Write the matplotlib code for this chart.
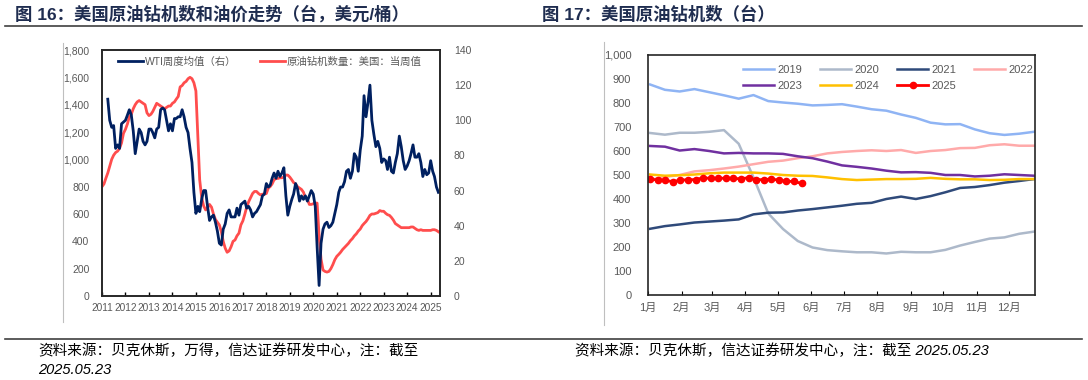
import matplotlib
matplotlib.use("Agg")
import matplotlib.pyplot as plt
import matplotlib.dates as mdates
from matplotlib.lines import Line2D
from matplotlib.ticker import MultipleLocator, FuncFormatter
import numpy as np
import pandas as pd

plt.rcParams['font.family'] = ['Liberation Sans', 'Noto Sans CJK SC', 'DejaVu Sans']

# ---------------- 图16 数据（月度，读图估计） ----------------
rig_start = '2011-01-01'
rig_count = [
    800, 820, 860, 900, 950, 1000, 1030, 1050, 1060, 1080, 1120, 1190,   # 2011
    1220, 1260, 1310, 1330, 1370, 1400, 1420, 1430, 1420, 1410, 1400, 1340,  # 2012
    1320, 1330, 1350, 1380, 1410, 1400, 1390, 1380, 1370, 1380, 1390, 1390,  # 2013
    1410, 1420, 1440, 1460, 1530, 1540, 1560, 1570, 1590, 1600, 1590, 1560,  # 2014
    1500, 1150, 850, 720, 660, 630, 645, 670, 650, 600, 560, 540,         # 2015
    520, 470, 400, 350, 320, 330, 360, 400, 410, 440, 460, 520,           # 2016
    550, 600, 650, 690, 720, 750, 765, 765, 750, 740, 745, 745,           # 2017
    750, 790, 800, 820, 850, 860, 860, 865, 865, 870, 885, 885,           # 2018
    870, 850, 830, 820, 800, 790, 780, 760, 720, 710, 670, 670,           # 2019
    675, 680, 680, 440, 270, 190, 180, 175, 180, 200, 230, 265,           # 2020
    290, 305, 320, 340, 355, 370, 385, 405, 420, 440, 455, 475,           # 2021
    490, 515, 530, 545, 565, 590, 600, 600, 605, 610, 625, 620,           # 2022
    620, 605, 595, 590, 575, 555, 530, 520, 510, 500, 500, 500,           # 2023
    500, 500, 505, 505, 495, 485, 480, 485, 480, 480, 480, 480,           # 2024
    480, 485, 485, 480, 470,                                              # 2025
]

wti_start = '2011-04-01'
wti_price = [
    112, 100, 96, 97, 84, 86, 84, 98, 99,                  # 2011
    100, 103, 106, 103, 94, 81, 88, 95, 93, 88, 86, 88,    # 2012
    95, 95, 93, 90, 95, 96, 106, 107, 106, 100, 94, 98,    # 2013
    94, 101, 101, 102, 102, 106, 102, 96, 93, 84, 76, 59,  # 2014
    47, 51, 48, 55, 60, 60, 51, 43, 45, 46, 42, 37,        # 2015
    30, 29, 38, 41, 47, 49, 45, 45, 45, 50, 46, 52,        # 2016
    53, 54, 50, 51, 49, 45, 47, 48, 50, 52, 57, 58,        # 2017
    64, 62, 63, 67, 70, 67, 71, 68, 70, 73, 57, 46,        # 2018
    51, 55, 58, 64, 61, 54, 57, 55, 57, 54, 57, 60,        # 2019
    58, 51, 28, 6, 30, 38, 41, 42, 39, 40, 42, 47,         # 2020
    52, 59, 62, 62, 65, 71, 72, 67, 71, 81, 79, 71,        # 2021
    83, 91, 114, 102, 110, 120, 100, 92, 85, 88, 84, 76,   # 2022
    78, 77, 72, 79, 71, 70, 76, 81, 91, 85, 77, 72,        # 2023
    74, 77, 81, 86, 79, 79, 81, 76, 68, 72, 69, 70,        # 2024
    77, 71, 68, 62, 59,                                    # 2025
]

# ---------------- 图17 数据（双周，读图估计） ----------------
day_grid = np.linspace(2, 357, 27)
rig_2019 = [877, 855, 848, 858, 845, 832, 818, 833, 808, 802, 797, 790, 792, 795,
            785, 774, 768, 752, 738, 718, 711, 712, 690, 674, 667, 672, 680]
rig_2020 = [675, 668, 676, 676, 680, 687, 630, 490, 340, 275, 225, 198, 187, 182,
            178, 178, 173, 180, 178, 178, 188, 206, 221, 235, 240, 255, 264]
rig_2021 = [276, 287, 294, 302, 306, 310, 315, 336, 343, 344, 352, 358, 365, 372,
            380, 384, 400, 410, 400, 412, 428, 446, 450, 458, 468, 475, 483]
rig_2022 = [480, 492, 500, 515, 520, 527, 535, 545, 555, 560, 570, 578, 590, 596,
            600, 603, 600, 604, 592, 600, 604, 612, 613, 624, 628, 622, 622]
rig_2023 = [621, 618, 602, 608, 600, 590, 592, 590, 590, 588, 578, 570, 556, 540,
            534, 527, 518, 511, 512, 509, 500, 500, 494, 497, 503, 500, 497]
rig_2024 = [502, 497, 499, 502, 507, 510, 510, 510, 506, 500, 497, 496, 490, 483,
            479, 481, 483, 483, 484, 488, 484, 482, 482, 479, 480, 483, 483]
rig_2025 = [482, 480, 478, 472, 479, 480, 481, 488, 486, 486, 487, 486, 484, 489,
            480, 481, 483, 479, 474, 473, 465]
years = ['2019', '2020', '2021', '2022', '2023', '2024']
year_colors = ['#8fb4f4', '#adb9ca', '#2f4a7a', '#ffaaaa', '#7030a0', '#ffc000']
month_labels = [f'{m}月' for m in range(1, 13)]

W, H = 1088, 380
fig = plt.figure(figsize=(W / 100, H / 100), dpi=100)


def fx(px):
    return px / W


def fy(py):
    return 1 - py / H


grey = '#595959'
thous = FuncFormatter(lambda v, p: f'{v:,.0f}')

# ---------------- 图16 ----------------
ax = fig.add_axes([fx(102), fy(296), fx(440 - 102), (296 - 50) / H])
ax2 = ax.twinx()
rig_dates = pd.date_range(rig_start, periods=len(rig_count), freq='MS')
wti_dates = pd.date_range(wti_start, periods=len(wti_price), freq='MS')
l_rig, = ax.plot(rig_dates, rig_count, color='#ff4d4d', lw=2.0)
l_wti, = ax2.plot(wti_dates, wti_price, color='#002060', lw=2.0)

ax.set_ylim(0, 1800)
ax2.set_ylim(0, 140)
ax.yaxis.set_major_locator(MultipleLocator(200))
ax2.yaxis.set_major_locator(MultipleLocator(20))
ax.yaxis.set_major_formatter(thous)
ax.set_xlim(pd.Timestamp('2011-01-01'), pd.Timestamp('2025-05-26'))
ax.xaxis.set_major_locator(mdates.YearLocator())
ax.xaxis.set_major_formatter(mdates.DateFormatter('%Y'))
ax.tick_params(axis='x', direction='in', length=3, width=1, labelsize=7.3,
               labelcolor=grey, pad=5)
ax.tick_params(axis='y', length=0, labelsize=7.5, labelcolor=grey, pad=9)
ax2.tick_params(axis='y', length=0, labelsize=7.5, labelcolor=grey, pad=10)
for a in (ax, ax2):
    for s in a.spines.values():
        s.set_color('#262626')
        s.set_linewidth(1.2)
ax2.legend([l_wti, l_rig], ['WTI周度均值（右）', '原油钻机数量：美国：当周值'],
           loc='upper left', bbox_to_anchor=(0.02, 1.01), ncol=2, frameon=False,
           fontsize=7.5, handlelength=2.4, handletextpad=0.2, columnspacing=2.2,
           labelcolor=grey)

# ---------------- 图17 ----------------
ax3 = fig.add_axes([fx(648), fy(295), fx(1035 - 648), (295 - 55) / H])
series = [rig_2019, rig_2020, rig_2021, rig_2022, rig_2023, rig_2024]
lines = {}
for yr, vals, c in zip(years, series, year_colors):
    lines[yr], = ax3.plot(day_grid, vals, color=c, lw=1.8)
days_2025 = pd.date_range('2025-01-03', periods=len(rig_2025), freq='7D').dayofyear - 1
lines['2025'], = ax3.plot(days_2025, rig_2025, color='#ff0000', lw=2.0,
                          marker='o', ms=4.5)

month_pos = pd.date_range('2019-01-01', periods=12, freq='MS').dayofyear - 1
ax3.set_xlim(0, 358)
ax3.set_ylim(0, 1000)
ax3.set_xticks(month_pos)
ax3.set_xticklabels(month_labels)
ax3.yaxis.set_major_locator(MultipleLocator(100))
ax3.yaxis.set_major_formatter(thous)
ax3.tick_params(axis='x', direction='in', length=3, labelsize=8, labelcolor=grey, pad=6)
ax3.tick_params(axis='y', length=0, labelsize=8, labelcolor=grey, pad=12)
for s in ax3.spines.values():
    s.set_color('#262626')
    s.set_linewidth(1.2)
order = ['2019', '2023', '2020', '2024', '2021', '2025', '2022']
ax3.legend([lines[k] for k in order], order, loc='upper left',
           bbox_to_anchor=(0.22, 1.0), ncol=4, frameon=False, fontsize=8,
           handlelength=2.8, handletextpad=0.3, columnspacing=1.6,
           labelspacing=0.5, labelcolor=grey)

# ---------------- 标题、分隔线、脚注 ----------------
title_kw = dict(fontsize=12.5, fontweight='bold', color='#1f2d50', va='center', ha='left')
fig.text(fx(15), fy(14), '图 16：美国原油钻机数和油价走势（台，美元/桶）', **title_kw)
fig.text(fx(542), fy(14), '图 17：美国原油钻机数（台）', **title_kw)

for yy in (26, 339):
    fig.add_artist(Line2D([fx(5), fx(1082)], [fy(yy), fy(yy)], color='#404040', lw=1.2))
fig.add_artist(Line2D([fx(63), fx(63)], [fy(43), fy(322)], color='#bfbfbf', lw=0.8))
fig.add_artist(Line2D([fx(604), fx(604)], [fy(42), fy(325)], color='#bfbfbf', lw=0.8))

foot_kw = dict(fontsize=10.5, style='italic', color='black', va='center', ha='left')
fig.text(fx(38), fy(351), '资料来源：贝克休斯，万得，信达证券研发中心，注：截至', **foot_kw)
fig.text(fx(38), fy(370), '2025.05.23', **foot_kw)
fig.text(fx(575), fy(351), '资料来源：贝克休斯，信达证券研发中心，注：截至 2025.05.23', **foot_kw)

fig.savefig('out.png', dpi=100)
